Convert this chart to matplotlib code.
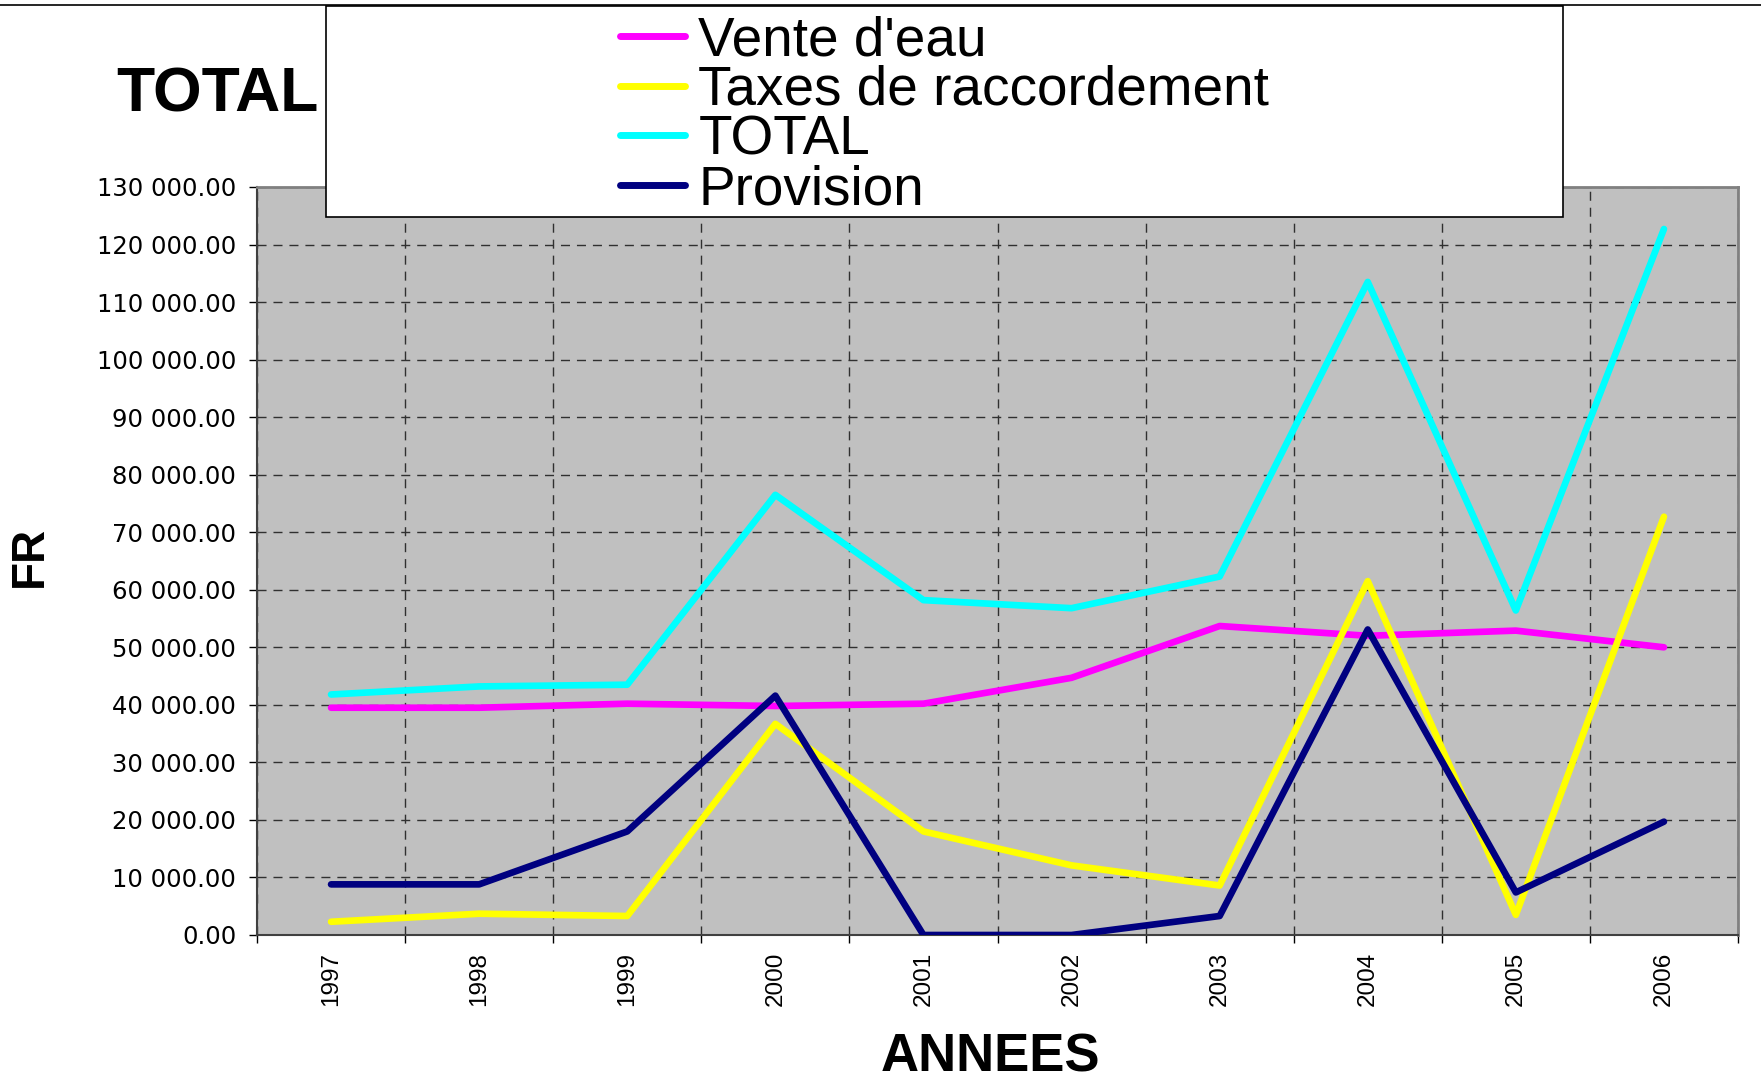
import matplotlib
matplotlib.use("Agg")
import matplotlib.pyplot as plt
from matplotlib.ticker import FixedLocator, FuncFormatter, MultipleLocator
from matplotlib.patches import Rectangle
from matplotlib.lines import Line2D

years = ["1997", "1998", "1999", "2000", "2001", "2002", "2003", "2004", "2005", "2006"]
vente_eau = [39500, 39500, 40200, 39800, 40200, 44700, 53700, 52000, 52900, 50000]
taxes = [2300, 3700, 3300, 36700, 18000, 12100, 8600, 61500, 3500, 72700]
total = [41800, 43200, 43500, 76500, 58200, 56800, 62300, 113500, 56400, 122700]
provision = [8800, 8800, 18000, 41600, 0, 0, 3300, 53100, 7400, 19700]

series = [
    ("Vente d'eau", vente_eau, "#FF00FF"),
    ("Taxes de raccordement", taxes, "#FFFF00"),
    ("TOTAL", total, "#00FFFF"),
    ("Provision", provision, "#000080"),
]

W, H = 1761, 1090
fig = plt.figure(figsize=(W / 100, H / 100), dpi=100)
fig.patch.set_facecolor("white")

ax = fig.add_axes([257 / W, 1 - 935 / H, (1738 - 257) / W, (935 - 187) / H])
ax.set_facecolor("#C0C0C0")

x = list(range(len(years)))
for name, vals, col in series:
    ax.plot(x, vals, color=col, lw=4.8, solid_capstyle="round",
            solid_joinstyle="round", label=name, zorder=3)

ax.set_xlim(-0.5, len(years) - 0.5)
ax.set_ylim(0, 130000)

# x: ticks at category boundaries, labels at centres
ax.xaxis.set_major_locator(FixedLocator([i - 0.5 for i in range(len(years) + 1)]))
ax.xaxis.set_major_formatter(FuncFormatter(lambda v, p: ""))
ax.set_xticks(x, minor=True)
ax.set_xticklabels(years, minor=True, rotation=90, fontsize=17.5, family="Liberation Sans")
ax.tick_params(axis="x", which="major", length=6, width=1, direction="out", color="black")
ax.tick_params(axis="x", which="minor", length=0, pad=12)

ax.yaxis.set_major_locator(MultipleLocator(10000))
ax.yaxis.set_major_formatter(FuncFormatter(lambda v, p: f"{v:,.2f}".replace(",", " ")))
ax.tick_params(axis="y", length=6, width=1, direction="out", pad=9, labelsize=17.5)
for lab in ax.get_yticklabels():
    lab.set_family("DejaVu Sans")

ax.grid(True, which="major", axis="both", color="#303030", lw=1, linestyle=(0, (6.5, 5)))
ax.set_axisbelow(True)

for s in ["top", "right"]:
    ax.spines[s].set_color("#808080")
    ax.spines[s].set_linewidth(2)
for s in ["left", "bottom"]:
    ax.spines[s].set_color("#404040")
    ax.spines[s].set_linewidth(1.5)

# figure top border line
fig.add_artist(Line2D([0, 1], [1 - 5 / H, 1 - 5 / H], transform=fig.transFigure,
                      color="black", lw=1.2))

# title (partly hidden under legend)
fig.text(116 / W, 1 - 112 / H, "TOTAL", fontsize=45, fontweight="bold",
         family="Liberation Sans", ha="left", va="baseline")

# axis labels
fig.text(990 / W, 1 - 1072 / H, "ANNEES", fontsize=38, fontweight="bold",
         family="Liberation Sans", ha="center", va="baseline")
fig.text(30 / W, 1 - 556 / H, "FR", fontsize=33, fontweight="bold",
         family="Liberation Sans", ha="center", va="center", rotation=90)

# legend box
box = Rectangle((326 / W, 1 - 217 / H), (1563 - 326) / W, (217 - 6) / H,
                transform=fig.transFigure, facecolor="white", edgecolor="black",
                lw=1.2, zorder=4)
fig.add_artist(box)

leg_handles = [Line2D([], [], color=c, lw=5, solid_capstyle="round") for _, _, c in series]
leg = fig.legend(leg_handles, [n for n, _, _ in series], loc="upper left",
                 bbox_to_anchor=(620 / W, 1 - 15 / H), frameon=False,
                 prop={"family": "Liberation Sans", "size": 39.5},
                 handlelength=1.18, handletextpad=0.25, labelspacing=-0.04,
                 borderpad=0, borderaxespad=0)
leg.set_zorder(5)

fig.savefig("out.png", dpi=100)
